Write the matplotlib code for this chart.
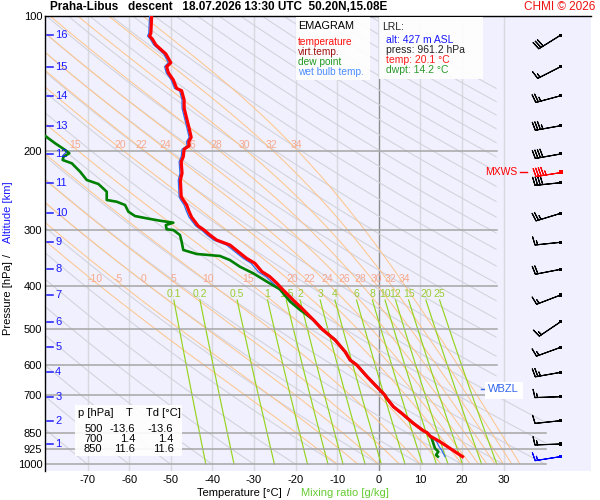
import numpy as np
import matplotlib
matplotlib.use('Agg')
import matplotlib.pyplot as plt
from matplotlib.patches import Rectangle, Polygon
from matplotlib.ticker import NullLocator
from matplotlib.transforms import blended_transform_factory

plt.rcParams['font.family'] = ['Liberation Sans', 'DejaVu Sans']
plt.rcParams['axes.unicode_minus'] = False

# ---------------- data ----------------
title_text = "Praha-Libus   descent   18.07.2026 13:30 UTC  50.20N,15.08E"
p_levels = [100, 200, 300, 400, 500, 600, 700, 850, 925, 1000]
t_ticks = [-70, -60, -50, -40, -30, -20, -10, 0, 10, 20, 30]

temp_p = [961.2, 921.2, 890.5, 864.8, 850.0, 841.6, 810.1, 769.5, 743.9, 712.5, 700.0,
          671.3, 637.7, 600.5, 585.3, 560.9, 528.1, 506.1, 500.0, 476.5, 448.8, 430.0,
          408.5, 394.7, 381.5, 371.8, 356.1, 347.1, 335.5, 324.2, 316.0, 308.0, 300.2,
          294.1, 287.6, 281.2, 273.2, 264.0, 257.3, 253.0, 232.2, 224.3, 211.3, 206.0,
          198.3, 194.7, 190.7, 186.5, 178.0, 169.1, 160.4, 153.9, 146.8, 145.0, 138.9,
          133.8, 129.7, 127.1, 121.5, 116.0, 112.7, 110.8, 109.3, 100.0]
temp_t = [20.1, 17.1, 14.7, 12.3, 11.6, 10.7, 8.3, 5.5, 3.5, 1.9, 1.4,
          -0.5, -2.8, -5.3, -6.9, -8.1, -10.5, -12.9, -13.6, -15.7, -18.5, -20.6,
          -23.0, -24.5, -26.2, -28.1, -29.8, -31.8, -33.8, -35.8, -39.0, -40.6, -42.0,
          -43.4, -44.2, -45.0, -45.6, -46.2, -47.0, -47.5, -47.7, -47.3, -47.5, -47.0,
          -46.8, -45.6, -45.7, -45.1, -45.6, -46.2, -46.8, -46.8, -47.4, -48.6, -49.4,
          -50.6, -51.0, -50.0, -51.2, -53.6, -54.4, -55.1, -54.8, -54.6]

dwpt_p = [961.2, 953.5, 937.5, 921.2, 897.9, 875.1, 864.8, 850.0, 841.6, 810.1, 769.5,
          743.9, 712.5, 700.0, 671.3, 637.7, 600.5, 585.3, 560.9, 528.1, 506.1, 500.0,
          476.5, 460.4, 452.7, 433.8, 407.0, 391.4, 374.9, 362.4, 350.2, 343.0, 339.5,
          332.6, 318.8, 308.0, 300.2, 299.1, 292.6, 289.1, 286.2, 282.7, 279.4, 273.2,
          264.0, 259.6, 257.3, 246.6, 237.0, 232.2, 222.5, 213.1, 209.5, 206.0, 202.4,
          199.0, 192.3, 185.2, 178.0]
dwpt_t = [14.2, 13.75, 14.3, 13.5, 13.1, 12.7, 12.3, 11.6, 10.7, 8.3, 5.5,
          3.5, 1.9, 1.4, -0.5, -2.8, -5.3, -6.9, -8.1, -10.5, -12.9, -13.6,
          -15.7, -17.8, -18.9, -21.3, -23.8, -26.9, -30.2, -33.4, -35.8, -38.2, -43.8,
          -47.0, -47.4, -47.8, -49.4, -51.0, -51.2, -49.4, -52.6, -55.8, -58.6, -60.2,
          -61.0, -63.0, -65.4, -65.4, -67.4, -70.2, -71.8, -73.8, -76.0, -75.8, -74.4,
          -75.4, -77.8, -80.2, -84.0]

wetb_p = [961.2, 929.3, 913.7, 890.5, 875.1, 864.8, 850.0, 841.6, 810.1, 769.5, 743.9,
          712.5, 700.0, 671.3, 637.7, 600.5, 585.3, 560.9, 528.1, 506.1, 500.0, 476.5,
          448.8, 430.0, 408.5, 394.7, 381.5, 371.8, 356.1, 347.1, 335.5, 324.2, 316.0,
          308.0, 300.2, 294.1, 287.6, 281.2, 273.2, 264.0, 257.3, 253.0, 232.2, 224.3,
          211.3, 206.0, 198.3, 194.7, 190.7, 186.5, 178.0, 169.1, 160.4, 153.9, 146.8,
          145.0, 138.9, 133.8, 129.7, 127.1, 121.5, 116.0, 112.7, 110.8, 109.3, 100.0]
wetb_t = [15.9, 15.1, 14.5, 13.9, 13.1, 12.3, 11.6, 10.7, 8.3, 5.5, 3.5,
          1.9, 1.4, -0.5, -2.8, -5.3, -6.9, -8.1, -10.5, -12.9, -13.6, -15.9,
          -19.1, -21.3, -23.8, -25.4, -27.1, -29.0, -30.7, -32.6, -34.6, -36.6, -39.7,
          -41.3, -42.6, -44.0, -44.8, -45.6, -46.2, -46.8, -47.6, -48.0, -48.2, -47.8,
          -48.0, -47.5, -47.3, -46.1, -46.2, -45.6, -46.1, -46.7, -47.3, -47.3, -47.9,
          -49.1, -49.9, -51.1, -51.5, -50.6, -51.7, -54.1, -54.9, -55.6, -55.3, -55.1]

alt_km = [1, 2, 3, 4, 5, 6, 7, 8, 9, 10, 11, 12, 13, 14, 15, 16]
alt_p = [901.1, 799.3, 706.6, 623.5, 548.3, 480.7, 419.1, 367.3, 319.7, 275.5,
         235.4, 203.1, 175.7, 150.6, 129.7, 110.3]

wind_p = [961.2, 901.1, 799.3, 706.6, 623.5, 548.3, 480.7, 419.1, 367.3, 319.7, 275.5,
          235.4, 203.1, 175.7, 150.6, 129.7, 110.3]
wind_dir = [261, 268, 264, 268, 260, 250, 236, 249, 259, 264, 253, 264, 260, 260, 255, 243, 238]
wind_spd = [15, 15, 10, 15, 25, 15, 15, 15, 20, 15, 25, 40, 40, 35, 25, 15, 30]
mxws_p, mxws_dir, mxws_spd = 222.8, 261, 45
wbzl_p = 678.0

mix_ratios = [0.1, 0.2, 0.5, 1, 1.5, 2, 3, 4, 6, 8, 10, 12, 15, 20, 25]
mix_labels = ['0.1', '0.2', '0.5', '1', '1.5', '2', '3', '4', '6', '8', '10', '12', '15', '20', '25']
theta_w = [-10, -5, 0, 5, 10, 15, 20, 22, 24, 26, 28, 30, 32, 34]
theta_dry_c = list(range(-80, 260, 10))

table_rows = [('500', '-13.6', '-13.6'), ('700', '1.4', '1.4'), ('850', '11.6', '11.6')]

# ---------------- helpers ----------------
W, H = 600, 500
def fx(x): return x / W
def fy(y): return 1 - y / H

def es(tc):
    return 6.112 * np.exp(17.67 * tc / (tc + 243.5))

def moist_adiabats(t0c, pgrid):
    Rd, cp, Lv, eps = 287.04, 1005.7, 2.501e6, 0.622
    def f(T, p):
        e = es(T - 273.15)
        rs = eps * e / (p - e)
        return (Rd * T + Lv * rs) / (cp + Lv * Lv * rs * eps / (Rd * T * T))
    T = np.asarray(t0c, float) + 273.15
    out = [T.copy()]
    lp = np.log(pgrid)
    for i in range(len(pgrid) - 1):
        h = lp[i + 1] - lp[i]
        p0, pm, p1 = pgrid[i], np.exp(lp[i] + h / 2), pgrid[i + 1]
        k1 = f(T, p0)
        k2 = f(T + h / 2 * k1, pm)
        k3 = f(T + h / 2 * k2, pm)
        k4 = f(T + h * k3, p1)
        T = T + h / 6 * (k1 + 2 * k2 + 2 * k3 + k4)
        out.append(T.copy())
    return np.array(out) - 273.15

# ---------------- figure ----------------
fig = plt.figure(figsize=(6, 5), dpi=100)
ax = fig.add_axes([fx(45), fy(471), fx(591) - fx(45), fy(16) - fy(471)])
ax.set_facecolor('#f0f0fe')
ax.set_yscale('log')
XMIN, XMAX = -80.24, 51.0
ax.set_xlim(XMIN, XMAX)
ax.set_ylim(1035, 100)

clip = Polygon([(XMIN, 100), (28.3, 100), (28.3, 690), (40.3, 760), (40.3, 1000), (XMIN, 1000)],
               closed=True, transform=ax.transData, facecolor='none', edgecolor='none')
ax.add_patch(clip)

# isotherms
for t in t_ticks:
    ax.axvline(t, color='#8c8c8c' if t == 0 else '#d8d8de', lw=1.0, zorder=1)

pg = np.exp(np.linspace(np.log(1000), np.log(100), 300))
# dry adiabats
for th in theta_dry_c:
    T = (th + 273.15) * (pg / 1000.0) ** 0.2857 - 273.15
    l, = ax.plot(T, pg, color='#d2d2da', lw=0.75, zorder=1.2)
    l.set_clip_path(clip)
# moist adiabats
MA = moist_adiabats(theta_w, pg)
for j, tw in enumerate(theta_w):
    l, = ax.plot(MA[:, j], pg, color='#ffc487', lw=0.7, zorder=1.3)
    l.set_clip_path(clip)
for p_lab in (386.0, 194.0):
    idx = np.argmin(np.abs(pg - p_lab))
    for j, tw in enumerate(theta_w):
        tl = MA[idx, j] + 1.1
        if tl > -78.5:
            ax.text(tl, p_lab, str(tw), color='#f6a88c', fontsize=7.5, ha='center', va='center', zorder=2)
# mixing ratio lines
pm = np.exp(np.linspace(np.log(1000), np.log(430), 100))
for w, lab in zip(mix_ratios, mix_labels):
    e = w * pm / (622.0 + w)
    le = np.log(e / 6.112)
    T = 243.5 * le / (17.67 - le)
    ax.plot(T, pm, color='#96d41e', lw=0.85, zorder=1.4)
    ax.text(T[-1], 418, lab, color='#9acd32', fontsize=7.5, ha='center', va='center', zorder=2)

# pressure lines
for p in p_levels[1:]:
    xe = 40.3 if p >= 850 else 28.3
    ax.plot([XMIN, xe], [p, p], color='#a6a6a6', lw=1.1, zorder=1.5)

# profiles
ax.plot(wetb_t, wetb_p, color='#2f6cf0', lw=0.9, zorder=3)
ax.plot(dwpt_t, dwpt_p, color='#008000', lw=1.9, zorder=3.5)
ax.plot(temp_t, temp_p, color='#ff0000', lw=2.3, zorder=4)

# axes styling
ax.set_yticks(p_levels)
ax.set_yticklabels([str(p) for p in p_levels])
ax.yaxis.set_minor_locator(NullLocator())
ax.set_xticks(t_ticks)
ax.set_xticklabels([str(t) for t in t_ticks])
ax.tick_params(axis='both', length=0, labelsize=8, colors='black')
ax.tick_params(axis='y', pad=2)
ax.tick_params(axis='x', pad=3)
for s in ('right', 'bottom'):
    ax.spines[s].set_visible(False)
for s in ('top', 'left'):
    ax.spines[s].set_color('black')
    ax.spines[s].set_linewidth(1.0)

# altitude ticks
bt = blended_transform_factory(ax.transAxes, ax.transData)
for km, p in zip(alt_km, alt_p):
    ax.plot([0.003, 0.0152], [p, p], color='#1a1aff', lw=1.1, transform=bt, zorder=5)
    ax.text(0.0185, p, str(km), color='#1a1aff', fontsize=8, ha='left', va='center', transform=bt, zorder=5)

# wind barbs
XB = (560.7 - 378.8) / 4.16
BL = 6.1
def uv(d, s):
    r = np.deg2rad(d)
    return -s * np.sin(r), -s * np.cos(r)
u, v = uv(np.array(wind_dir), np.array(wind_spd))
cols = ['#0000ff'] + ['black'] * (len(wind_p) - 1)
bsz = dict(spacing=0.1, height=0.32, width=0.12, emptybarb=0.05)
ax.barbs(np.full(len(wind_p), XB), wind_p, u, v, length=BL, pivot='tip', barbcolor=cols,
         flagcolor=cols, linewidth=0.8, sizes=bsz, zorder=5)
ax.scatter(np.full(len(wind_p), XB), wind_p, marker='s', s=5, c=cols, zorder=6, linewidths=0)
um, vm = uv(mxws_dir, mxws_spd)
ax.barbs([XB], [mxws_p], [um], [vm], length=BL, pivot='tip', barbcolor='red', flagcolor='red',
         linewidth=0.8, sizes=bsz, zorder=5.5)
ax.scatter([XB], [mxws_p], marker='s', s=5, c='red', zorder=6, linewidths=0)
ax.plot([(520 - 378.8) / 4.16, (527.3 - 378.8) / 4.16], [mxws_p, mxws_p], color='red', lw=1.0, zorder=6)
ax.text((517 - 378.8) / 4.16, mxws_p, 'MXWS', color='red', fontsize=7.5, ha='right', va='center', zorder=6)

# WBZL
ax.plot([(480.7 - 378.8) / 4.16, (485.3 - 378.8) / 4.16], [wbzl_p, wbzl_p], color='#3366ee', lw=1.0, zorder=6)
fig.patches.append(Rectangle((fx(485.3), fy(399)), fx(522.7) - fx(485.3), fy(382) - fy(399),
                             transform=fig.transFigure, facecolor='white', edgecolor='none', zorder=5))
fig.text(fx(487.5), fy(389), 'WBZL', color='#3366ee', fontsize=8, ha='left', va='center', zorder=7)

# legend boxes
for (x0, y0, x1, y1) in [(296, 17, 370, 80), (379, 17, 483, 79), (75, 405, 182, 456)]:
    fig.patches.append(Rectangle((fx(x0), fy(y1)), fx(x1) - fx(x0), fy(y0) - fy(y1),
                                 transform=fig.transFigure, facecolor='white', alpha=0.9,
                                 edgecolor='none', zorder=5))
fig.text(fx(298), fy(26), 'EMAGRAM', fontsize=7.8, color='black', va='center', zorder=7)
for txt, c, y in [('temperature', '#ff1010', 42), ('virt.temp.', '#a01010', 52),
                  ('dew point', '#209a20', 62), ('wet bulb temp.', '#4a8cff', 72)]:
    fig.text(fx(298), fy(y), txt, fontsize=7.3, color=c, va='center', zorder=7)
fig.text(fx(382), fy(27), 'LRL:', fontsize=7.5, color='#202020', va='center', zorder=7)
for txt, c, y in [('alt: 427 m ASL', '#1a1aff', 40), ('press: 961.2 hPa', '#202020', 50),
                  ('temp: 20.1 °C', '#ff1a1a', 60), ('dwpt: 14.2 °C', '#2a9a2a', 70)]:
    fig.text(fx(386), fy(y), txt, fontsize=7.5, color=c, va='center', zorder=7)

fig.text(fx(77.5), fy(413), 'p [hPa]', fontsize=8, va='center', ha='left', zorder=7)
fig.text(fx(129), fy(413), 'T', fontsize=8, va='center', ha='center', zorder=7)
fig.text(fx(146), fy(413), 'Td [°C]', fontsize=8, va='center', ha='left', zorder=7)
for i, (p, t, td) in enumerate(table_rows):
    y = 429 + 10 * i
    fig.text(fx(102.5), fy(y), p, fontsize=8, va='center', ha='right', zorder=7)
    fig.text(fx(135), fy(y), t, fontsize=8, va='center', ha='right', zorder=7)
    fig.text(fx(173.5), fy(y), td, fontsize=8, va='center', ha='right', zorder=7)

# titles and axis labels
fig.text(fx(50), fy(7), title_text, fontsize=8.5, fontweight='bold', ha='left', va='center')
fig.text(fx(595), fy(7), 'CHMI © 2026', fontsize=8.5, color='#ee1111', ha='right', va='center')
fig.text(fx(239), fy(493), 'Temperature [°C]', fontsize=8, ha='center', va='center')
fig.text(fx(289), fy(493), '/', fontsize=8, ha='center', va='center')
fig.text(fx(344.7), fy(493), 'Mixing ratio [g/kg]', fontsize=8, ha='center', va='center', color='#66cc33')
fig.text(fx(8), fy(298), 'Pressure [hPa]', fontsize=8, rotation=90, ha='center', va='center')
fig.text(fx(8), fy(255.5), '/', fontsize=8, rotation=90, ha='center', va='center')
fig.text(fx(8), fy(212.5), 'Altitude [km]', fontsize=8, rotation=90, ha='center', va='center', color='#1a1aff')

fig.savefig('out.png', dpi=100, facecolor='white')
